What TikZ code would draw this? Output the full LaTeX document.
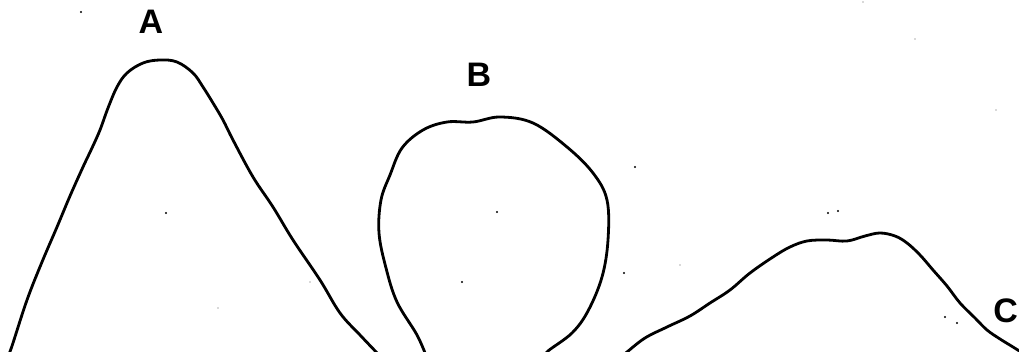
\documentclass[tikz,border=0pt]{standalone}
\usepackage{fontspec}
\setmainfont{Liberation Sans}
\begin{document}
\begin{tikzpicture}[x=1pt,y=-1pt,
  curve/.style={line width=2.8pt,line join=round,line cap=round},
  lbl/.style={font=\bfseries\fontsize{34}{34}\selectfont,inner sep=0pt},
  speck/.style={fill=black,draw=none}]
\useasboundingbox (0,0) rectangle (1019,352);
\begin{scope}
\clip (0,0) rectangle (1019,352);
% mountain A
\draw[curve] plot[smooth,tension=0.6] coordinates {
 (8,356) (12,346) (27,300) (42,262) (57,227) (70,196) (83,167) (92,148) (100,130)
 (108,108) (117,87) (127,73) (143,63) (160,60) (177,62) (193,73) (203,87)
 (213,103) (223,120) (233,140) (253,177) (273,207) (293,240) (320,280)
 (340,313) (360,335) (380,356)};
% circle B
\draw[curve] plot[smooth,tension=0.6] coordinates {
 (427,358) (417,335) (397,302) (386,268) (379,233) (381,200) (390,175)
 (402,148) (423,130) (447,122) (473,122) (500,117) (533,123) (567,147)
 (593,173) (607,200) (608,240) (602,277) (588,311) (572,333) (548,351) (543,358)};
% hill C
\draw[curve] plot[smooth,tension=0.6] coordinates {
 (620,358) (627,352) (645,338) (667,327) (690,316) (710,303) (730,290) (750,273)
 (773,257) (790,247) (807,241) (827,240) (847,241) (865,236) (880,233) (895,236) (907,243)
 (920,255) (933,270) (947,286) (960,303) (975,318) (987,330) (1000,339) (1013,347) (1024,354)};
\end{scope}
% labels
\node[lbl] (A) at (151,22) {A};
\node[lbl] (B) at (479,75) {B};
\node[lbl,anchor=east] (C) at (1018,311) {C};
% specks
\foreach \p in {(81,12),(166,213),(497,212),(462,282),(624,273),(635,167),(828,213),(838,211),(945,317),(957,323)}
  \fill[speck] \p circle (1.2pt);
\foreach \p in {(218,308),(310,282),(863,2),(915,39),(996,110),(680,265)}
  \fill[gray!60] \p circle (0.8pt);
\end{tikzpicture}
\end{document}
